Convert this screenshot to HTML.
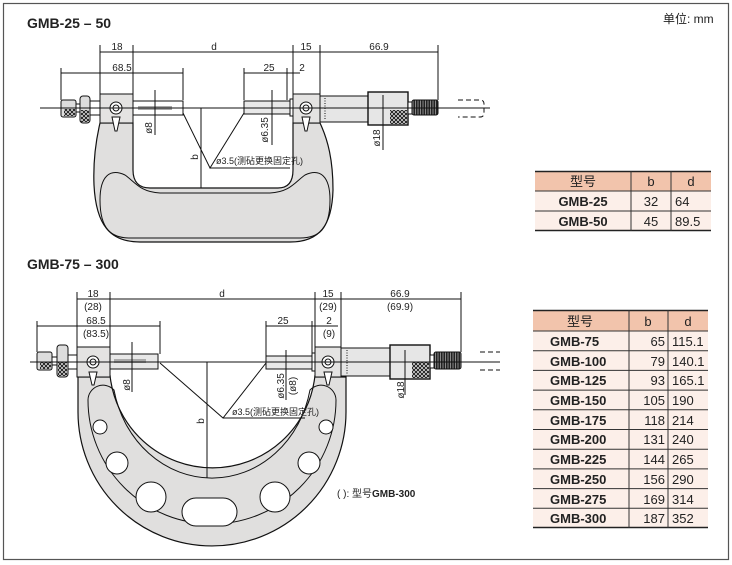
<!DOCTYPE html>
<html><head><meta charset="utf-8"><style>
body{margin:0;background:#fff}
svg{display:block}
text{font-family:"Liberation Sans","Noto Sans CJK SC",sans-serif;fill:#222}
.b{font-weight:bold}
.s{stroke:#111;stroke-width:1;fill:none}
.g{fill:#e0dfde;stroke:#111;stroke-width:1.2}
.w{fill:#fff;stroke:#111;stroke-width:1}
.t{font-size:10px;text-anchor:middle}
</style></head><body>
<svg width="732" height="565" viewBox="0 0 732 565" xmlns="http://www.w3.org/2000/svg">
<defs>
<pattern id="kn" width="4" height="4" patternUnits="userSpaceOnUse"><rect width="4" height="4" fill="#ddd"/><path d="M0 0L4 4M4 0L0 4" stroke="#111" stroke-width="0.9"/></pattern>
<pattern id="rt" width="2.5" height="4" patternUnits="userSpaceOnUse"><rect width="2.5" height="4" fill="#222"/><rect width="1" height="4" fill="#888"/></pattern>
</defs>
<rect x="3.5" y="3.5" width="725" height="556" fill="none" stroke="#555" stroke-width="1.2"/>
<text x="663" y="23" font-size="12">单位: mm</text>
<text x="27" y="28" font-size="14" class="b">GMB-25 – 50</text>
<text x="27" y="269" font-size="14" class="b">GMB-75 – 300</text>

<!-- ===== TOP DRAWING ===== -->
<path class="g" d="M100 123 C96 140 93 160 94 185 C96 225 110 242 140 242 L290 242 C320 242 332 225 333 190 C333 160 328 140 320 123 L293 123 L293 170 C293 182 288 188 278 188 L150 188 C139 188 133 182 133 170 L133 123 Z"/>
<path class="s" d="M100 200 C100 176 110 168 125 175 C135 182 140 192 160 193 L270 193 C290 192 295 182 305 175 C320 168 330 176 330 200 C330 230 318 238 300 238 L130 238 C112 238 100 230 100 200 Z"/>
<rect x="61" y="100" width="15" height="17" rx="2" fill="#ddd" stroke="#111"/>
<rect x="64" y="109" width="11" height="7" fill="url(#kn)"/>
<rect x="76" y="104" width="4" height="8" class="w"/>
<rect x="80" y="96" width="10" height="27" rx="3" fill="#ddd" stroke="#111"/>
<rect x="81" y="110" width="8" height="12" fill="url(#kn)"/>
<rect x="90" y="101" width="10" height="14" class="w" fill="#ddd"/>
<rect x="100" y="94" width="33" height="29" fill="#e4e3e2" stroke="#111"/>
<circle cx="116" cy="108" r="6" class="w"/><circle cx="116" cy="108" r="3" class="w"/>
<path d="M112 117 L120 117 L117 131 L115 131 Z" class="w"/>
<rect x="133" y="101" width="50" height="14" class="w" fill="#e8e8e8"/>
<rect x="138" y="106" width="34" height="4" fill="#aaa"/>
<rect x="244" y="101" width="46" height="13" fill="#e8e8e8" stroke="#111"/>
<rect x="290" y="99" width="3" height="17" class="w"/>
<rect x="293" y="94" width="27" height="29" fill="#e4e3e2" stroke="#111"/>
<circle cx="306" cy="108" r="6" class="w"/><circle cx="306" cy="108" r="3" class="w"/>
<path d="M302 117 L310 117 L307 131 L305 131 Z" class="w"/>
<rect x="320" y="96" width="48" height="26" fill="#e6e6e6" stroke="#111"/>
<path d="M325 98 v22" stroke="#111" stroke-dasharray="1 1.5"/>
<rect x="368" y="92" width="40" height="33" fill="#e6e6e6" stroke="#111" stroke-width="1.4"/>
<rect x="390" y="110" width="17" height="14" fill="url(#kn)"/>
<rect x="408" y="102" width="4" height="12" class="w"/>
<rect x="412" y="100" width="26" height="15" rx="2" fill="url(#rt)" stroke="#111"/>
<path class="s" d="M458 100 h22 q4 0 4 4 v9 q0 4 -4 4 h-22" stroke-dasharray="5 3"/>
<path class="s" d="M40 108 H490"/>
<!-- dims top -->
<path class="s" d="M100 52 H438 M100 45 V94 M133 45 V94 M293 45 V94 M320 45 V94 M438 45 V100 M61 73 H183 M61 68 V100 M183 68 V100 M244 73 H300 M244 68 V100 M287 68 V100"/>
<text class="t" x="117" y="50">18</text><text class="t" x="214" y="50">d</text>
<text class="t" x="306" y="50">15</text><text class="t" x="379" y="50">66.9</text>
<text class="t" x="122" y="71">68.5</text><text class="t" x="269" y="71">25</text><text class="t" x="302" y="71">2</text>
<path class="s" d="M155 90 V135 M272 90 V145 M383 95 V150 M201 108 V188 M183 113 L210 168 L244 113 M210 168 H290"/>
<text class="t" font-size="9" transform="translate(152 128) rotate(-90)">ø8</text>
<text class="t" font-size="9" transform="translate(268 130) rotate(-90)">ø6.35</text>
<text class="t" font-size="9" transform="translate(380 138) rotate(-90)">ø18</text>
<text class="t" font-size="9" transform="translate(198 157) rotate(-90)">b</text>
<text x="216" y="164" font-size="9">ø3.5(测砧更换固定孔)</text>

<!-- Table 1 -->
<rect x="535" y="171" width="176" height="20" fill="#f2c4ac"/>
<rect x="535" y="191" width="176" height="40" fill="#fcefe9"/>
<path stroke="#222" stroke-width="1.5" d="M535 171.5H711 M535 230.5H711"/>
<path stroke="#333" stroke-width="1" d="M535 191H711 M535 211H711 M631 171V231 M671 171V231"/>
<g font-size="13"><text x="583" y="186" text-anchor="middle" fill="#555">型号</text><text x="651" y="186" text-anchor="middle">b</text><text x="691" y="186" text-anchor="middle">d</text>
<text x="583" y="206" class="b" text-anchor="middle">GMB-25</text><text x="651" y="206" text-anchor="middle">32</text><text x="675" y="206">64</text>
<text x="583" y="226" class="b" text-anchor="middle">GMB-50</text><text x="651" y="226" text-anchor="middle">45</text><text x="675" y="226">89.5</text></g>

<!-- ===== BOTTOM DRAWING ===== -->
<path class="g" d="M78 377 L78 412 A134 134 0 0 0 346 412 L346 377 L315 377 L315 375 A103 103 0 0 1 110 375 L110 377 Z"/>
<path class="s" d="M88 400 A124 124 0 0 0 336 400 A15 15 0 0 0 310 390 A100 110 0 0 1 114 390 A15 15 0 0 0 88 400 Z"/>
<g class="w"><circle cx="100" cy="427" r="7"/><circle cx="117" cy="463" r="11"/><circle cx="151" cy="497" r="15"/><rect x="182" y="498" width="55" height="28" rx="14"/><circle cx="275" cy="497" r="15"/><circle cx="309" cy="463" r="11"/><circle cx="326" cy="427" r="7"/></g>
<rect x="37" y="352" width="15" height="18" rx="2" fill="#ddd" stroke="#111"/>
<rect x="40" y="362" width="11" height="7" fill="url(#kn)"/>
<rect x="52" y="357" width="5" height="8" class="w"/>
<rect x="57" y="345" width="11" height="32" rx="3" fill="#ddd" stroke="#111"/>
<rect x="58" y="362" width="9" height="14" fill="url(#kn)"/>
<rect x="68" y="355" width="9" height="14" class="w" fill="#ddd"/>
<rect x="77" y="347" width="33" height="30" fill="#e4e3e2" stroke="#111"/>
<circle cx="93" cy="362" r="6" class="w"/><circle cx="93" cy="362" r="3" class="w"/>
<path d="M89 372 L97 372 L94 385 L92 385 Z" class="w"/>
<rect x="110" y="354" width="48" height="15" fill="#e8e8e8" stroke="#111"/>
<rect x="114" y="359" width="32" height="4" fill="#aaa"/>
<rect x="266" y="356" width="46" height="13" fill="#e8e8e8" stroke="#111"/>
<rect x="312" y="353" width="3" height="18" class="w"/>
<rect x="315" y="347" width="26" height="30" fill="#e4e3e2" stroke="#111"/>
<circle cx="328" cy="362" r="6" class="w"/><circle cx="328" cy="362" r="3" class="w"/>
<path d="M324 372 L332 372 L329 385 L327 385 Z" class="w"/>
<rect x="341" y="348" width="49" height="28" fill="#e6e6e6" stroke="#111"/>
<path d="M347 350 v24" stroke="#111" stroke-dasharray="1 1.5"/>
<rect x="390" y="345" width="40" height="34" fill="#e6e6e6" stroke="#111" stroke-width="1.4"/>
<rect x="412" y="362" width="17" height="16" fill="url(#kn)"/>
<rect x="430" y="355" width="4" height="13" class="w"/>
<rect x="434" y="352" width="27" height="17" rx="2" fill="url(#rt)" stroke="#111"/>
<path class="s" d="M480 352 h20 M480 370 h20" stroke-dasharray="5 3"/>
<path class="s" d="M30 362 H500"/>
<!-- dims bottom -->
<path class="s" d="M77 299 H461 M77 292 V347 M110 292 V347 M315 292 V347 M341 292 V347 M461 292 V352 M37 326 H160 M37 321 V352 M160 321 V354 M266 326 H338 M266 321 V356 M312 321 V353"/>
<g class="t" font-size="10">
<text x="93" y="297">18</text><text x="93" y="310">(28)</text>
<text x="222" y="297">d</text>
<text x="328" y="297">15</text><text x="328" y="310">(29)</text>
<text x="400" y="297">66.9</text><text x="400" y="310">(69.9)</text>
<text x="96" y="324">68.5</text><text x="96" y="337">(83.5)</text>
<text x="283" y="324">25</text><text x="329" y="324">2</text><text x="329" y="337">(9)</text></g>
<path class="s" d="M132 342 V392 M286 350 V400 M405 350 V395 M207 362 V478 M160 363 L223 418 L266 363 M223 418 H305"/>
<text class="t" font-size="9" transform="translate(130 385) rotate(-90)">ø8</text>
<text class="t" font-size="9" transform="translate(284 386) rotate(-90)">ø6.35</text>
<text class="t" font-size="9" transform="translate(296 386) rotate(-90)">(ø8)</text>
<text class="t" font-size="9" transform="translate(404 390) rotate(-90)">ø18</text>
<text class="t" font-size="9" transform="translate(204 421) rotate(-90)">b</text>
<text x="232" y="415" font-size="9">ø3.5(测砧更换固定孔)</text>
<text x="337" y="497" font-size="10">( ): 型号<tspan class="b">GMB-300</tspan></text>

<!-- Table 2 -->
<rect x="533" y="310" width="175" height="21" fill="#f2c4ac"/>
<rect x="533" y="331" width="175" height="197" fill="#fcefe9"/>
<path stroke="#222" stroke-width="1.5" d="M533 310.5H708 M533 527.5H708"/>
<path stroke="#333" stroke-width="1" d="M533 331H708 M533 350.7H708 M533 370.4H708 M533 390.1H708 M533 409.8H708 M533 429.5H708 M533 449.2H708 M533 468.9H708 M533 488.6H708 M533 508.3H708 M629 310V528 M668 310V528"/>
<g font-size="13">
<text x="580" y="326" text-anchor="middle" fill="#555">型号</text><text x="648" y="326" text-anchor="middle">b</text><text x="688" y="326" text-anchor="middle">d</text>
<g class="b"><text x="550" y="346">GMB-75</text><text x="550" y="366">GMB-100</text><text x="550" y="385">GMB-125</text><text x="550" y="405">GMB-150</text><text x="550" y="425">GMB-175</text><text x="550" y="444">GMB-200</text><text x="550" y="464">GMB-225</text><text x="550" y="484">GMB-250</text><text x="550" y="504">GMB-275</text><text x="550" y="523">GMB-300</text></g>
<g text-anchor="end"><text x="665" y="346">65</text><text x="665" y="366">79</text><text x="665" y="385">93</text><text x="665" y="405">105</text><text x="665" y="425">118</text><text x="665" y="444">131</text><text x="665" y="464">144</text><text x="665" y="484">156</text><text x="665" y="504">169</text><text x="665" y="523">187</text></g>
<g><text x="672" y="346">115.1</text><text x="672" y="366">140.1</text><text x="672" y="385">165.1</text><text x="672" y="405">190</text><text x="672" y="425">214</text><text x="672" y="444">240</text><text x="672" y="464">265</text><text x="672" y="484">290</text><text x="672" y="504">314</text><text x="672" y="523">352</text></g>
</g>
</svg>
</body></html>
